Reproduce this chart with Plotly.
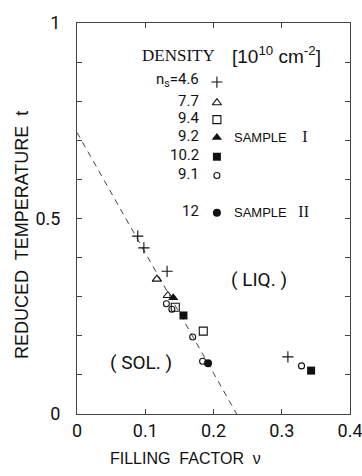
import plotly.graph_objects as go

# ---- data (filling factor nu, reduced temperature t) ----
nu_46 = [0.089, 0.098, 0.132, 0.309]
t_46 = [0.455, 0.425, 0.365, 0.146]
nu_77 = [0.117, 0.133]
t_77 = [0.345, 0.303]
nu_94 = [0.144, 0.185]
t_94 = [0.273, 0.212]
nu_92 = [0.141]
t_92 = [0.297]
nu_102 = [0.156, 0.343]
t_102 = [0.252, 0.111]
nu_91 = [0.131, 0.139, 0.1695, 0.184, 0.329]
t_91 = [0.282, 0.268, 0.197, 0.135, 0.123]
nu_12 = [0.192]
t_12 = [0.130]

# melting line
line_nu = [0.0, 0.234]
line_t = [0.72, 0.0]

# legend entries
leg_labels = ["n<sub>s</sub>=4.6", "7.7", "9.4", "9.2", "10.2", "9.1", "12"]
leg_t = [0.853, 0.800, 0.757, 0.711, 0.662, 0.614, 0.519]

x_ticks = [0, 0.1, 0.2, 0.3, 0.4]
x_ticktext = ["0", "0.1", "0.2", "0.3", "0.4"]
y_ticks = [0, 0.5, 1.0]
y_ticktext = ["0", "0.5", "1"]

BLACK = "#111111"
NUMFONT = "Liberation Sans Narrow, Arial Narrow, Roboto, sans-serif"
SANS = "Liberation Sans, Arial, sans-serif"
SERIF = "Liberation Serif, Times New Roman, serif"

styles = [
    dict(symbol="cross-thin-open", size=8, line=dict(width=1.1, color=BLACK), color=BLACK),
    dict(symbol="triangle-up-open", size=8, line=dict(width=1.1, color=BLACK), color=BLACK),
    dict(symbol="square-open", size=8, line=dict(width=1.1, color=BLACK), color=BLACK),
    dict(symbol="triangle-up", size=9, line=dict(width=0, color=BLACK), color=BLACK),
    dict(symbol="square", size=8, line=dict(width=0, color=BLACK), color=BLACK),
    dict(symbol="circle-open", size=6, line=dict(width=1.1, color=BLACK), color=BLACK),
    dict(symbol="circle", size=8, line=dict(width=0, color=BLACK), color=BLACK),
]
series = [(nu_46, t_46), (nu_77, t_77), (nu_94, t_94), (nu_92, t_92),
          (nu_102, t_102), (nu_91, t_91), (nu_12, t_12)]

fig = go.Figure()
fig.add_trace(go.Scatter(x=line_nu, y=line_t, mode="lines",
                         line=dict(color=BLACK, width=0.8, dash="6px,5px"),
                         showlegend=False, hoverinfo="skip"))
for (xs, ys), st in zip(series, styles):
    fig.add_trace(go.Scatter(x=xs, y=ys, mode="markers", marker=st,
                             showlegend=False))

# legend key markers
leg_key_nu = 0.205
for ty, st in zip(leg_t, styles):
    fig.add_trace(go.Scatter(x=[leg_key_nu], y=[ty - 0.004], mode="markers",
                             marker=st, showlegend=False, hoverinfo="skip"))

ann = []
for lab, ty in zip(leg_labels, leg_t):
    ann.append(dict(x=0.181, y=ty, xref="x", yref="y", text=lab, showarrow=False,
                    xanchor="right", yanchor="middle",
                    font=dict(family=NUMFONT, size=15, color=BLACK)))
ann += [
    dict(x=0.149, y=0.918, xref="x", yref="y", text="DENSITY", showarrow=False,
         font=dict(family=SERIF, size=17, color=BLACK)),
    dict(x=0.292, y=0.918, xref="x", yref="y",
         text="[10<sup>10</sup> cm<sup>-2</sup>]", showarrow=False,
         font=dict(family=SANS, size=19, color=BLACK)),
    dict(x=0.227, y=0.711, xref="x", yref="y", xanchor="left",
         text="SAMPLE <span style='font-family:Liberation Serif;font-size:16px'>&nbsp;&nbsp;&nbsp;I</span>",
         showarrow=False, font=dict(family=SANS, size=13, color=BLACK)),
    dict(x=0.227, y=0.517, xref="x", yref="y", xanchor="left",
         text="SAMPLE <span style='font-family:Liberation Serif;font-size:16px'>&nbsp;&nbsp;II</span>",
         showarrow=False, font=dict(family=SANS, size=13, color=BLACK)),
    dict(x=0.267, y=0.343, xref="x", yref="y", text="( LIQ. )", showarrow=False,
         font=dict(family=NUMFONT, size=19, color=BLACK)),
    dict(x=0.094, y=0.133, xref="x", yref="y", text="( SOL. )", showarrow=False,
         font=dict(family=NUMFONT, size=19, color=BLACK)),
    dict(x=(185 - 77) / 273, y=(414 - 458) / 391, xref="paper", yref="paper",
         text="FILLING  FACTOR  \u03bd", showarrow=False, yanchor="middle",
         font=dict(family=SANS, size=16, color=BLACK)),
    dict(x=(22 - 77) / 273, y=(414 - 235) / 391, xref="paper", yref="paper",
         text="REDUCED  TEMPERATURE  t", textangle=-90, showarrow=False,
         xanchor="center", yanchor="middle",
         font=dict(family=SANS, size=18, color=BLACK)),
]

fig.update_layout(
    width=362, height=476,
    margin=dict(l=77, r=12, t=23, b=62, autoexpand=False),
    paper_bgcolor="white", plot_bgcolor="white",
    annotations=ann,
    showlegend=False,
)

fig.update_xaxes(range=[0, 0.4], tickvals=x_ticks, ticktext=x_ticktext,
                 ticks="inside", ticklen=5, tickcolor="#444", tickwidth=1,
                 showline=True, linecolor="#444", linewidth=1, mirror="ticks",
                 showgrid=False, zeroline=False, automargin=False,
                 ticklabeloverflow="allow",
                 tickfont=dict(family=NUMFONT, size=18, color=BLACK))
fig.update_yaxes(range=[0, 1], tickvals=y_ticks, ticktext=y_ticktext,
                 ticks="inside", ticklen=5, tickcolor="#444", tickwidth=1,
                 minor=dict(ticks="inside", dtick=0.1, ticklen=5,
                            tickcolor="#444", tickwidth=1, showgrid=False),
                 showline=True, linecolor="#444", linewidth=1, mirror="ticks",
                 showgrid=False, zeroline=False, ticklabelstandoff=12,
                 automargin=False, ticklabeloverflow="allow",
                 tickfont=dict(family=NUMFONT, size=18, color=BLACK))

fig.write_html("out.html",
               config={"displayModeBar": False},
               post_script="document.body.style.margin='0';"
                           "document.body.style.overflow='hidden';")
